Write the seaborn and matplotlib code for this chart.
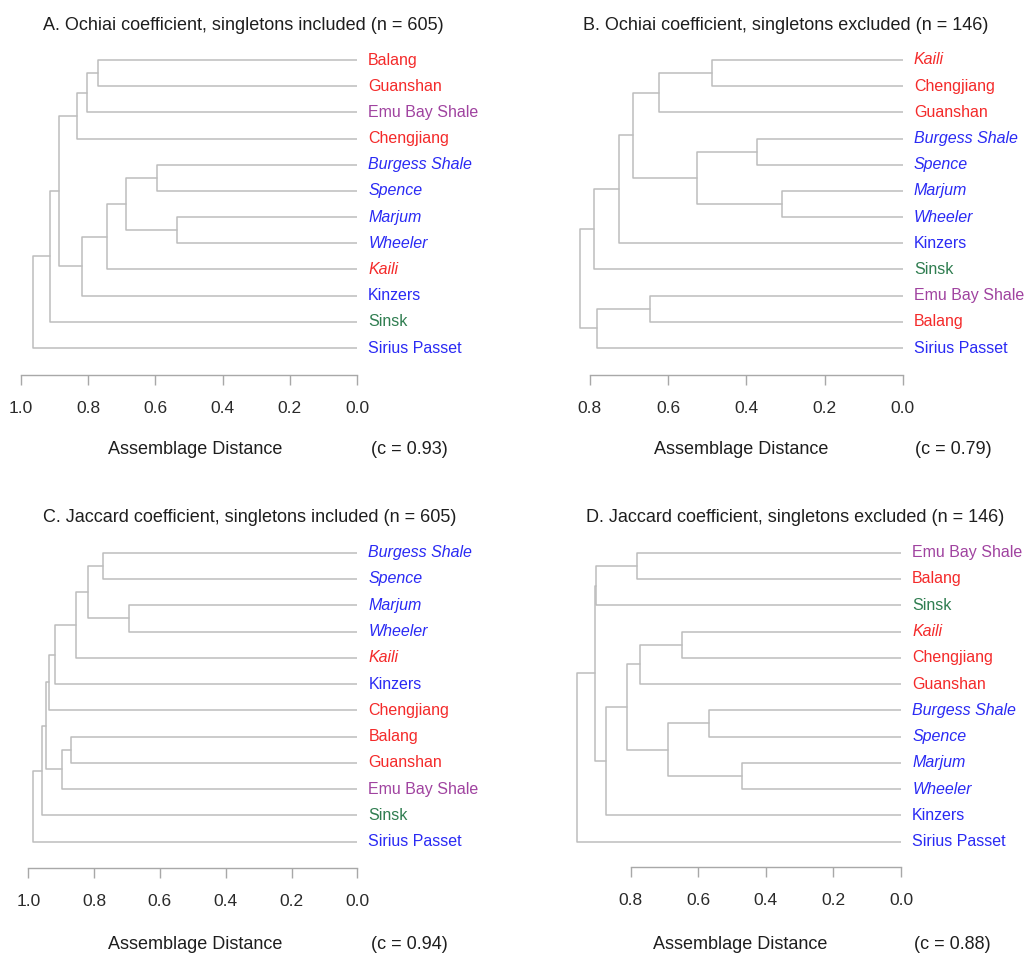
import pandas as pd
import seaborn as sns
import matplotlib.pyplot as plt

# leaf order (top to bottom) and merges (child a, child b, height) per panel
leaves_a = ["Balang", "Guanshan", "Emu Bay Shale", "Chengjiang", "Burgess Shale", "Spence",
            "Marjum", "Wheeler", "Kaili", "Kinzers", "Sinsk", "Sirius Passet"]
merges_a = [(0, 1, 0.772), (12, 2, 0.804), (13, 3, 0.832), (4, 5, 0.596), (6, 7, 0.536),
            (15, 16, 0.688), (17, 8, 0.743), (18, 9, 0.817), (14, 19, 0.886), (20, 10, 0.914),
            (21, 11, 0.964)]

leaves_b = ["Kaili", "Chengjiang", "Guanshan", "Burgess Shale", "Spence", "Marjum", "Wheeler",
            "Kinzers", "Sinsk", "Emu Bay Shale", "Balang", "Sirius Passet"]
merges_b = [(0, 1, 0.488), (12, 2, 0.623), (3, 4, 0.372), (5, 6, 0.309), (14, 15, 0.526),
            (13, 16, 0.689), (17, 7, 0.725), (18, 8, 0.790), (9, 10, 0.647), (20, 11, 0.781),
            (19, 21, 0.825)]

leaves_c = ["Burgess Shale", "Spence", "Marjum", "Wheeler", "Kaili", "Kinzers", "Chengjiang",
            "Balang", "Guanshan", "Emu Bay Shale", "Sinsk", "Sirius Passet"]
merges_c = [(0, 1, 0.774), (2, 3, 0.693), (12, 13, 0.819), (14, 4, 0.854), (15, 5, 0.919),
            (16, 6, 0.936), (7, 8, 0.871), (18, 9, 0.897), (17, 19, 0.946), (20, 10, 0.959),
            (21, 11, 0.985)]

leaves_d = ["Emu Bay Shale", "Balang", "Sinsk", "Kaili", "Chengjiang", "Guanshan", "Burgess Shale",
            "Spence", "Marjum", "Wheeler", "Kinzers", "Sirius Passet"]
merges_d = [(0, 1, 0.782), (12, 2, 0.901), (3, 4, 0.648), (14, 5, 0.772), (6, 7, 0.567),
            (8, 9, 0.470), (16, 17, 0.690), (15, 18, 0.812), (19, 10, 0.874), (13, 20, 0.906),
            (21, 11, 0.958)]

titles = ["A. Ochiai coefficient, singletons included (n = 605)",
          "B. Ochiai coefficient, singletons excluded (n = 146)",
          "C. Jaccard coefficient, singletons included (n = 605)",
          "D. Jaccard coefficient, singletons excluded (n = 146)"]
coph = ["(c = 0.93)", "(c = 0.79)", "(c = 0.94)", "(c = 0.88)"]
tick_max = [1.0, 0.8, 1.0, 0.8]

red, blue, purple, green = "#F42A2A", "#2A2AF4", "#A043A0", "#2F7D50"
leaf_color = {"Balang": red, "Guanshan": red, "Chengjiang": red, "Kaili": red,
              "Emu Bay Shale": purple, "Sinsk": green,
              "Burgess Shale": blue, "Spence": blue, "Marjum": blue, "Wheeler": blue,
              "Kinzers": blue, "Sirius Passet": blue}
italic_leaves = {"Burgess Shale", "Spence", "Marjum", "Wheeler", "Kaili"}

# layout in pixels: zero x, px per unit, xlim max, first leaf y, last leaf y, axis y,
# title (x, baseline), axis label centre, c label centre
W, H = 1030, 955
layout = [
    dict(x0=357, sc=336, xmax=1.0, top=60, bot=348, ay=375, tx=43, ty=30, lx=195, cx=409, ly=450),
    dict(x0=902.7, sc=391, xmax=0.85, top=60, bot=348, ay=375, tx=583, ty=30, lx=741, cx=953, ly=450),
    dict(x0=357.3, sc=329, xmax=1.0, top=552.7, bot=841.7, ay=868, tx=43, ty=522, lx=195, cx=409, ly=944),
    dict(x0=901, sc=338, xmax=0.98, top=552.7, bot=841.7, ay=867, tx=586, ty=522, lx=740, cx=952, ly=944),
]


def dendro_segments(leaves, merges):
    pos = list(range(len(leaves)))
    hgt = [0.0] * len(leaves)
    rows = []
    for k, (a, b, h) in enumerate(merges):
        rows += [(hgt[a], pos[a], k), (h, pos[a], k), (h, pos[b], k), (hgt[b], pos[b], k)]
        pos.append((pos[a] + pos[b]) / 2)
        hgt.append(h)
    return pd.DataFrame(rows, columns=["dist", "pos", "seg"])


sns.set_style("white")
plt.rcParams["font.family"] = ["Liberation Sans", "DejaVu Sans"]

fig = plt.figure(figsize=(W / 100, H / 100), dpi=100)
panels = [(leaves_a, merges_a), (leaves_b, merges_b), (leaves_c, merges_c), (leaves_d, merges_d)]

for i, (leaves, merges) in enumerate(panels):
    L = layout[i]
    sp = (L["bot"] - L["top"]) / (len(leaves) - 1)
    top_px = L["top"] - 0.5 * sp
    ax = fig.add_axes([(L["x0"] - L["sc"] * L["xmax"]) / W, 1 - L["ay"] / H,
                       L["sc"] * L["xmax"] / W, (L["ay"] - top_px) / H])
    seg = dendro_segments(leaves, merges)
    sns.lineplot(data=seg, x="dist", y="pos", units="seg", estimator=None, sort=False,
                 color="#BDBDBD", lw=1.1, ax=ax)
    ax.set_xlim(L["xmax"], 0)
    ax.set_ylim(len(leaves) - 1 + (L["ay"] - L["bot"]) / sp, -0.5)
    ax.set_xlabel("")
    ax.set_ylabel("")
    ax.set_yticks([])
    for s in ["top", "right", "left"]:
        ax.spines[s].set_visible(False)
    ax.spines["bottom"].set_bounds(0, tick_max[i])
    ax.spines["bottom"].set_color("#A8A8A8")
    ax.spines["bottom"].set_linewidth(1.0)
    ticks = [t / 10 for t in range(0, int(round(tick_max[i] * 10)) + 1, 2)]
    ax.set_xticks(ticks)
    ax.set_xticklabels([f"{t:.1f}" for t in ticks])
    ax.tick_params(axis="x", direction="out", length=7.5, width=1.0, color="#A8A8A8",
                   pad=11, labelsize=12.5, labelcolor="#2A2A2A", bottom=True)
    for j, name in enumerate(leaves):
        ax.annotate(name, xy=(0, j), xytext=(8, 0), textcoords="offset points",
                    ha="left", va="center", fontsize=11.5, color=leaf_color[name],
                    style="italic" if name in italic_leaves else "normal",
                    annotation_clip=False)
    fig.text(L["tx"] / W, 1 - L["ty"] / H, titles[i], ha="left", va="baseline",
             fontsize=13, color="#1E1E1E")
    fig.text(L["lx"] / W, 1 - L["ly"] / H, "Assemblage Distance", ha="center", va="center",
             fontsize=13, color="#1E1E1E")
    fig.text(L["cx"] / W, 1 - L["ly"] / H, coph[i], ha="center", va="center",
             fontsize=13, color="#1E1E1E")

fig.savefig("out.png", dpi=100, facecolor="white")
